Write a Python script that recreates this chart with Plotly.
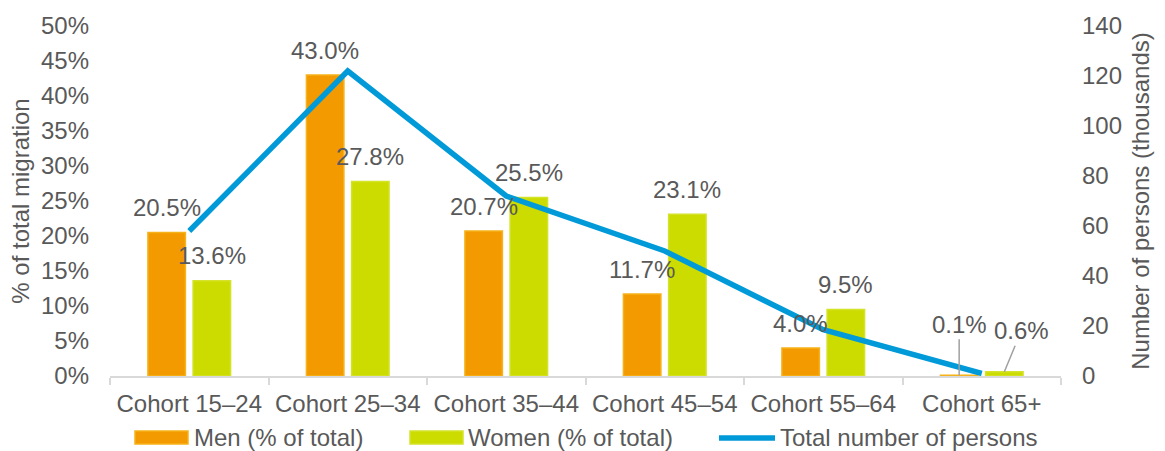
import plotly.graph_objects as go

# Age cohorts and migration shares
cohorts = ["Cohort 15–24", "Cohort 25–34", "Cohort 35–44",
           "Cohort 45–54", "Cohort 55–64", "Cohort 65+"]
men_pct = [20.5, 43.0, 20.7, 11.7, 4.0, 0.1]
women_pct = [13.6, 27.8, 25.5, 23.1, 9.5, 0.6]
total_persons = [58, 122, 72, 50, 18.5, 1]  # thousands

left_ticks = list(range(0, 51, 5))
right_ticks = list(range(0, 141, 20))

ORANGE = "#F29A00"
ORANGE_EDGE = "#F6B21A"
GREEN = "#CCDC00"
GREEN_EDGE = "#D4E22A"
BLUE = "#009AD9"
TEXT = "#595959"
AXIS = "#D9D9D9"
FONT = "Liberation Sans, Arial, sans-serif"
FS = 24

W, H = 1165, 451
ML, MR, MT, MB = 110, 104, 26, 75
BARGAP, GROUPGAP = 0.43, 0.17

fig = go.Figure()
fig.add_trace(go.Bar(
    x=cohorts, y=men_pct, name="Men (% of total)",
    marker=dict(color=ORANGE, line=dict(color=ORANGE_EDGE, width=1.5)),
    showlegend=False, cliponaxis=False,
))
fig.add_trace(go.Bar(
    x=cohorts, y=women_pct, name="Women (% of total)",
    marker=dict(color=GREEN, line=dict(color=GREEN_EDGE, width=1.5)),
    showlegend=False, cliponaxis=False,
))
fig.add_trace(go.Scatter(
    x=cohorts, y=total_persons, name="Total number of persons",
    yaxis="y2", mode="lines", line=dict(color=BLUE, width=5.5),
    showlegend=False, cliponaxis=False,
))

# value labels above the bars
slot = (1 - BARGAP) / 2
offset = slot / 2
annotations = []
for i, (m, w) in enumerate(zip(men_pct, women_pct)):
    for val, dx in ((m, -offset), (w, offset)):
        ann = dict(x=i + dx, y=val, xref="x", yref="y",
                   text=f"{val:.1f}%", font=dict(family=FONT, size=FS, color=TEXT))
        if val < 1:
            # tiny bars get a leader line
            ann.update(showarrow=True, arrowhead=0, arrowwidth=1.5,
                       arrowcolor="#A0A0A0", standoff=0,
                       ax=0 if dx < 0 else 17, ay=-51 if dx < 0 else -41)
        else:
            ann.update(showarrow=False, yshift=25)
        annotations.append(ann)

# legend drawn underneath the axis
pw = W - ML - MR
ph = H - MT - MB


def px_x(px):
    return (px - ML) / pw


def px_y(py):
    return (H - MB - py) / ph


shapes = [
    dict(type="rect", xref="paper", yref="paper",
         x0=px_x(135), x1=px_x(188), y0=px_y(444), y1=px_y(431),
         fillcolor=ORANGE, line=dict(color=ORANGE_EDGE, width=1.5)),
    dict(type="rect", xref="paper", yref="paper",
         x0=px_x(410), x1=px_x(463), y0=px_y(444), y1=px_y(431),
         fillcolor=GREEN, line=dict(color=GREEN_EDGE, width=1.5)),
    dict(type="line", xref="paper", yref="paper",
         x0=px_x(719), x1=px_x(775), y0=px_y(438), y1=px_y(438),
         line=dict(color=BLUE, width=5.5)),
]
for label, xpx in (("Men (% of total)", 192), ("Women (% of total)", 466),
                   ("Total number of persons", 778)):
    annotations.append(dict(
        x=px_x(xpx), y=px_y(438), xref="paper", yref="paper",
        xanchor="left", yanchor="middle", showarrow=False, text=label,
        font=dict(family=FONT, size=FS, color=TEXT)))

fig.update_layout(
    width=W, height=H,
    margin=dict(l=ML, r=MR, t=MT, b=MB, pad=0),
    paper_bgcolor="white", plot_bgcolor="white",
    barmode="group", bargap=BARGAP, bargroupgap=GROUPGAP,
    font=dict(family=FONT, size=FS, color=TEXT),
    xaxis=dict(
        type="category", showgrid=False, zeroline=False,
        showline=True, linecolor=AXIS, linewidth=2,
        ticks="outside", tickson="boundaries", ticklen=7, tickwidth=2,
        tickcolor=AXIS, ticklabelstandoff=5,
        tickfont=dict(family=FONT, size=FS, color=TEXT),
    ),
    yaxis=dict(
        range=[0, 50], tickvals=left_ticks, ticktext=[f"{t}%" for t in left_ticks],
        showgrid=False, zeroline=False, showline=False, ticks="",
        ticklabelstandoff=20,
        tickfont=dict(family=FONT, size=FS, color=TEXT),
        title=dict(text="% of total migration", standoff=4,
                   font=dict(family=FONT, size=FS, color=TEXT)),
    ),
    yaxis2=dict(
        range=[0, 140], tickvals=right_ticks, overlaying="y", side="right",
        showgrid=False, zeroline=False, showline=False, ticks="",
        ticklabelstandoff=20,
        tickfont=dict(family=FONT, size=FS, color=TEXT),
        title=dict(text="Number of persons (thousands)", standoff=11,
                   font=dict(family=FONT, size=FS, color=TEXT)),
    ),
    annotations=annotations,
    shapes=shapes,
    showlegend=False,
)

fig.write_html("out.html")
